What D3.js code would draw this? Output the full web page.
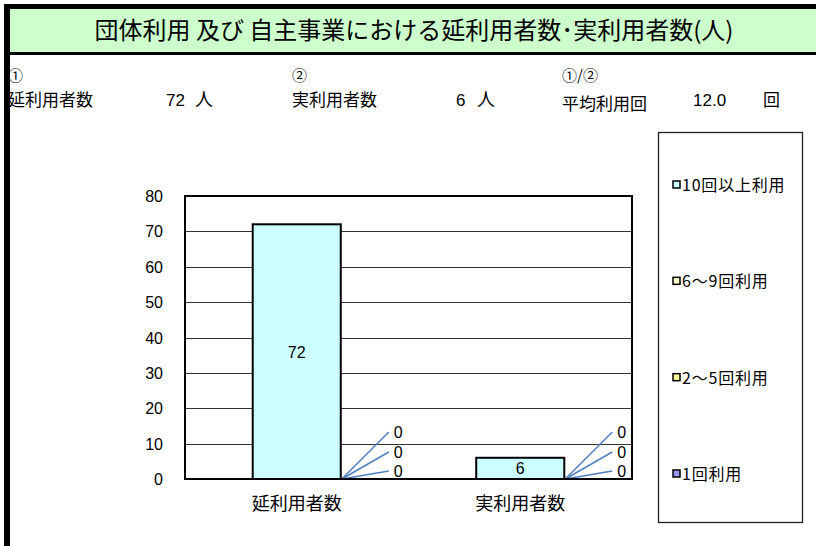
<!DOCTYPE html>
<html>
<head>
<meta charset="utf-8">
<script src="https://cdn.jsdelivr.net/npm/d3@7"></script>
<style>
  body { margin: 0; background: #fff; }
  text { font-family: 'Liberation Sans', Arial, 'Noto Sans CJK JP', sans-serif; }
  .jp { font-family: 'Noto Sans CJK JP', sans-serif; }
</style>
</head>
<body>
<div id="chart"></div>
<script>
// chart data
var categories = ['延利用者数', '実利用者数']
var seriesNames = ['1回利用', '2～5回利用', '6～9回利用', '10回以上利用'] // bottom -> top
var seriesColors = ['#9999ff', '#ffff99', '#ffffcc', '#ccffff']
var values = {
  '1回利用': [0, 0],
  '2～5回利用': [0, 0],
  '6～9回利用': [0, 0],
  '10回以上利用': [72, 6]
}
var yTicks = [0, 10, 20, 30, 40, 50, 60, 70, 80]
var title = '団体利用 及び 自主事業における延利用者数･実利用者数(人)'
var totalUses = 72
var realUsers = 6
var avgUses = '12.0'

var W = 816, H = 546
var svg = d3.select('#chart').append('svg').attr('width', W).attr('height', H)

// header band
svg.append('rect').attr('x', 4).attr('y', 4).attr('width', W).attr('height', 51).attr('fill', '#000')
svg.append('rect').attr('x', 10).attr('y', 9).attr('width', W).attr('height', 43).attr('fill', '#ccffcc')
svg.append('rect').attr('x', 4).attr('y', 4).attr('width', 6).attr('height', H).attr('fill', '#000')
svg.append('text').attr('class', 'jp').attr('x', 414).attr('y', 39)
  .attr('text-anchor', 'middle').attr('font-size', 24).text(title)

// summary row
var info = svg.append('g')
function jpText(xp, yp, t, size) {
  return info.append('text').attr('class', 'jp').attr('x', xp).attr('y', yp)
    .attr('font-size', size || 16).text(t)
}
function numText(xp, yp, t) {
  return info.append('text').attr('x', xp).attr('y', yp).attr('font-size', 17).text(t)
}
jpText(8, 81, '①', 15)
jpText(8, 106, '延利用者数', 17)
numText(166, 106, totalUses)
jpText(195, 106, '人', 18)
jpText(292, 81, '②', 15)
jpText(292, 106, '実利用者数', 17)
numText(456, 106, realUsers)
jpText(477, 106, '人', 18)
jpText(562, 81, '①/②', 15)
jpText(562, 110, '平均利用回', 17)
numText(693, 106, avgUses)
jpText(763, 106, '回', 17)

// plot
var plot = { left: 185, right: 632, top: 196, bottom: 479 }
var x = d3.scaleBand().domain(categories).range([plot.left, plot.right])
  .paddingInner(0.606).paddingOuter(0.303)
var y = d3.scaleLinear().domain([0, 80]).range([plot.bottom, plot.top])

var g = svg.append('g')
g.selectAll('line.grid').data(yTicks.filter(function(d) { return d > 0 && d < 80 }))
  .enter().append('line')
  .attr('x1', plot.left).attr('x2', plot.right)
  .attr('y1', function(d) { return Math.round(y(d)) + 0.5 })
  .attr('y2', function(d) { return Math.round(y(d)) + 0.5 })
  .attr('stroke', '#333').attr('stroke-width', 1)

g.selectAll('text.ytick').data(yTicks).enter().append('text')
  .attr('x', 163).attr('y', function(d) { return y(d) + 6 })
  .attr('text-anchor', 'end').attr('font-size', 16).text(function(d) { return d })

// stacked bars
var rows = categories.map(function(c, i) {
  var r = { cat: c }
  seriesNames.forEach(function(s) { r[s] = values[s][i] })
  return r
})
var stacked = d3.stack().keys(seriesNames)(rows)

stacked.forEach(function(layer, li) {
  g.selectAll('rect.s' + li).data(layer.filter(function(d) { return d[1] - d[0] > 0 }))
    .enter().append('rect')
    .attr('x', function(d) { return x(d.data.cat) })
    .attr('width', x.bandwidth())
    .attr('y', function(d) { return y(d[1]) })
    .attr('height', function(d) { return y(d[0]) - y(d[1]) })
    .attr('fill', seriesColors[li]).attr('stroke', '#000').attr('stroke-width', 2)
  layer.forEach(function(d) {
    var v = d[1] - d[0]
    if (v > 0) {
      g.append('text').attr('x', x(d.data.cat) + x.bandwidth() / 2)
        .attr('y', (y(d[0]) + y(d[1])) / 2 + 6)
        .attr('text-anchor', 'middle').attr('font-size', 16).text(v)
    }
  })
})

// zero-value labels with leader lines
var zeroOffsets = [8, 27, 47] // bottom series label lowest
categories.forEach(function(c) {
  var x0 = x(c) + x.bandwidth()
  var k = 0
  stacked.forEach(function(layer) {
    var d = layer.find(function(e) { return e.data.cat === c })
    if (d[1] - d[0] === 0) {
      var ly = plot.bottom - zeroOffsets[k]
      g.append('line').attr('x1', x0 + 1).attr('y1', y(d[1]))
        .attr('x2', x0 + 48).attr('y2', ly)
        .attr('stroke', '#4f81bd').attr('stroke-width', 1.5)
      g.append('text').attr('x', x0 + 53).attr('y', ly + 6)
        .attr('font-size', 16).text(0)
      k++
    }
  })
})

// frame
g.append('path')
  .attr('d', 'M' + plot.left + ',' + plot.bottom + 'V' + plot.top + 'H' + plot.right + 'V' + plot.bottom + 'Z')
  .attr('fill', 'none').attr('stroke', '#000').attr('stroke-width', 2)

// category labels
g.selectAll('text.cat').data(categories).enter().append('text').attr('class', 'jp')
  .attr('x', function(d) { return x(d) + x.bandwidth() / 2 }).attr('y', 510)
  .attr('text-anchor', 'middle').attr('font-size', 18).text(function(d) { return d })

// legend
var lg = svg.append('g')
lg.append('rect').attr('x', 658.5).attr('y', 132.5).attr('width', 144).attr('height', 390)
  .attr('fill', '#fff').attr('stroke', '#222').attr('stroke-width', 1.3)
var legendOrder = seriesNames.slice().reverse()
var legendY = d3.scalePoint().domain(legendOrder).range([185, 474])
legendOrder.forEach(function(s) {
  var li = seriesNames.indexOf(s)
  lg.append('rect').attr('x', 673).attr('y', legendY(s) - 4).attr('width', 7).attr('height', 7)
    .attr('fill', seriesColors[li]).attr('stroke', '#000').attr('stroke-width', 1.5)
  lg.append('text').attr('class', 'jp').attr('x', 682).attr('y', legendY(s) + 6)
    .attr('font-size', 16).attr('letter-spacing', 0.8).text(s)
})
</script>
</body>
</html>
